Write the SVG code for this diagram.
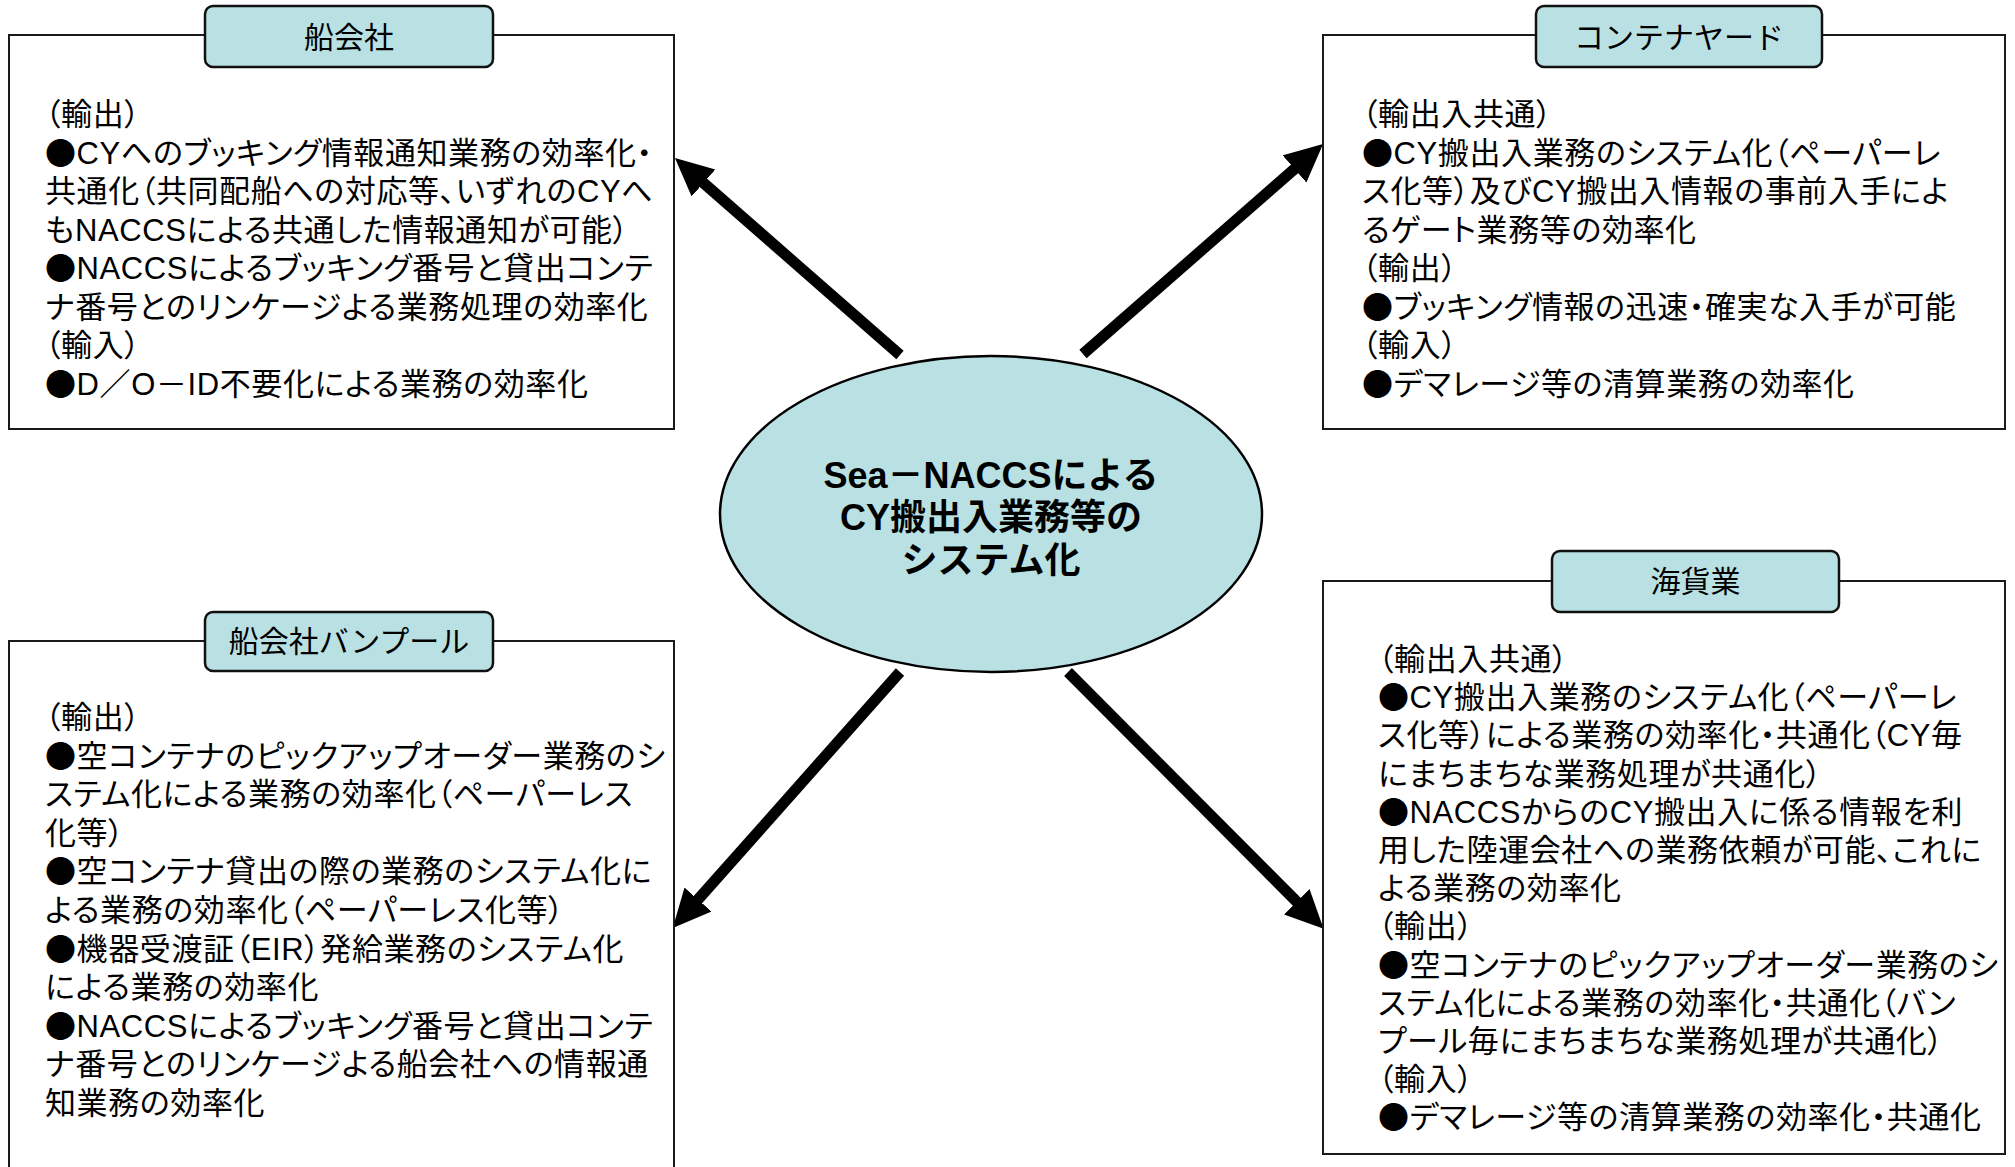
<svg xmlns="http://www.w3.org/2000/svg" width="2015" height="1167" viewBox="0 0 2015 1167">
<style>
.box{fill:#fff;stroke:#1a1a1a;stroke-width:2}
.tab{fill:#b9e0e3;stroke:#111;stroke-width:2.5}
.t{font-family:"Liberation Sans","Noto Sans CJK JP",sans-serif;font-size:31px;letter-spacing:0.6px;fill:#000;font-feature-settings:"palt"}
.h{font-family:"Liberation Sans","Noto Sans CJK JP",sans-serif;font-size:30px;fill:#000;text-anchor:middle}
.b{font-family:"Noto Sans CJK JP",sans-serif;font-feature-settings:normal}
.c{font-family:"Liberation Sans","Noto Sans CJK JP",sans-serif;font-size:36px;font-weight:bold;fill:#000;text-anchor:middle}
.arr{stroke:#000;stroke-width:11;fill:none}
</style>
<defs>
<marker id="ah" markerUnits="userSpaceOnUse" markerWidth="40" markerHeight="38" refX="6" refY="18" orient="auto" viewBox="0 0 40 38">
<path d="M0,0 L38,18 L0,36 z" fill="#000"/>
</marker>
</defs>
<rect width="2015" height="1167" fill="#fff"/>

<g id="connectors">
<line class="arr" x1="900" y1="355" x2="699" y2="179" marker-end="url(#ah)"/>
<line class="arr" x1="1083" y1="354" x2="1299" y2="165" marker-end="url(#ah)"/>
<line class="arr" x1="900" y1="672" x2="694" y2="904" marker-end="url(#ah)"/>
<line class="arr" x1="1068" y1="672" x2="1301" y2="906" marker-end="url(#ah)"/>
</g>

<g id="center">
<ellipse cx="991" cy="514" rx="271" ry="158" fill="#b9e0e3" stroke="#000" stroke-width="2.5"/>
<text class="c"><tspan x="991" y="488">Sea－NACCSによる</tspan><tspan x="991" y="530">CY搬出入業務等の</tspan><tspan x="991" y="573">システム化</tspan></text>
</g>

<g id="shipping-company">
<rect class="box" x="9" y="35" width="665" height="394"/>
<rect class="tab" x="205" y="6" width="288" height="61" rx="8"/>
<text class="h" x="349" y="48">船会社</text>
<text class="t">
<tspan x="45" y="125">（輸出）</tspan>
<tspan x="45" y="163.5"><tspan class="b">●</tspan>CYへのブッキング情報通知業務の効率化・</tspan>
<tspan x="45" y="202">共通化（共同配船への対応等、いずれのCYへ</tspan>
<tspan x="45" y="240.5">もNACCSによる共通した情報通知が可能）</tspan>
<tspan x="45" y="279"><tspan class="b">●</tspan>NACCSによるブッキング番号と貸出コンテ</tspan>
<tspan x="45" y="317.5">ナ番号とのリンケージよる業務処理の効率化</tspan>
<tspan x="45" y="356">（輸入）</tspan>
<tspan x="45" y="394.5"><tspan class="b">●</tspan>D／O－ID不要化による業務の効率化</tspan>
</text>
</g>

<g id="container-yard">
<rect class="box" x="1323" y="35" width="682" height="394"/>
<rect class="tab" x="1536" y="6" width="286" height="61" rx="8"/>
<text class="h" x="1679" y="48">コンテナヤード</text>
<text class="t">
<tspan x="1362" y="125">（輸出入共通）</tspan>
<tspan x="1362" y="163.5"><tspan class="b">●</tspan>CY搬出入業務のシステム化（ペーパーレ</tspan>
<tspan x="1362" y="202">ス化等）及びCY搬出入情報の事前入手によ</tspan>
<tspan x="1362" y="240.5">るゲート業務等の効率化</tspan>
<tspan x="1362" y="279">（輸出）</tspan>
<tspan x="1362" y="317.5"><tspan class="b">●</tspan>ブッキング情報の迅速・確実な入手が可能</tspan>
<tspan x="1362" y="356">（輸入）</tspan>
<tspan x="1362" y="394.5"><tspan class="b">●</tspan>デマレージ等の清算業務の効率化</tspan>
</text>
</g>

<g id="shipping-vanpool">
<rect class="box" x="9" y="641" width="665" height="560"/>
<rect class="tab" x="205" y="612" width="288" height="59" rx="8"/>
<text class="h" x="349" y="652">船会社バンプール</text>
<text class="t">
<tspan x="45" y="728">（輸出）</tspan>
<tspan x="45" y="766.6"><tspan class="b">●</tspan>空コンテナのピックアップオーダー業務のシ</tspan>
<tspan x="45" y="805.2">ステム化による業務の効率化（ペーパーレス</tspan>
<tspan x="45" y="843.8">化等）</tspan>
<tspan x="45" y="882.4"><tspan class="b">●</tspan>空コンテナ貸出の際の業務のシステム化に</tspan>
<tspan x="45" y="921">よる業務の効率化（ペーパーレス化等）</tspan>
<tspan x="45" y="959.6"><tspan class="b">●</tspan>機器受渡証（EIR）発給業務のシステム化</tspan>
<tspan x="45" y="998.2">による業務の効率化</tspan>
<tspan x="45" y="1036.8"><tspan class="b">●</tspan>NACCSによるブッキング番号と貸出コンテ</tspan>
<tspan x="45" y="1075.4">ナ番号とのリンケージよる船会社への情報通</tspan>
<tspan x="45" y="1114">知業務の効率化</tspan>
</text>
</g>

<g id="forwarder">
<rect class="box" x="1323" y="581" width="682" height="573"/>
<rect class="tab" x="1552" y="551" width="287" height="61" rx="8"/>
<text class="h" x="1695.5" y="592">海貨業</text>
<text class="t">
<tspan x="1378" y="670">（輸出入共通）</tspan>
<tspan x="1378" y="708.2"><tspan class="b">●</tspan>CY搬出入業務のシステム化（ペーパーレ</tspan>
<tspan x="1378" y="746.4">ス化等）による業務の効率化・共通化（CY毎</tspan>
<tspan x="1378" y="784.6">にまちまちな業務処理が共通化）</tspan>
<tspan x="1378" y="822.8"><tspan class="b">●</tspan>NACCSからのCY搬出入に係る情報を利</tspan>
<tspan x="1378" y="861">用した陸運会社への業務依頼が可能、これに</tspan>
<tspan x="1378" y="899.2">よる業務の効率化</tspan>
<tspan x="1378" y="937.4">（輸出）</tspan>
<tspan x="1378" y="975.6"><tspan class="b">●</tspan>空コンテナのピックアップオーダー業務のシ</tspan>
<tspan x="1378" y="1013.8">ステム化による業務の効率化・共通化（バン</tspan>
<tspan x="1378" y="1052">プール毎にまちまちな業務処理が共通化）</tspan>
<tspan x="1378" y="1090.2">（輸入）</tspan>
<tspan x="1378" y="1128.4"><tspan class="b">●</tspan>デマレージ等の清算業務の効率化・共通化</tspan>
</text>
</g>
</svg>
